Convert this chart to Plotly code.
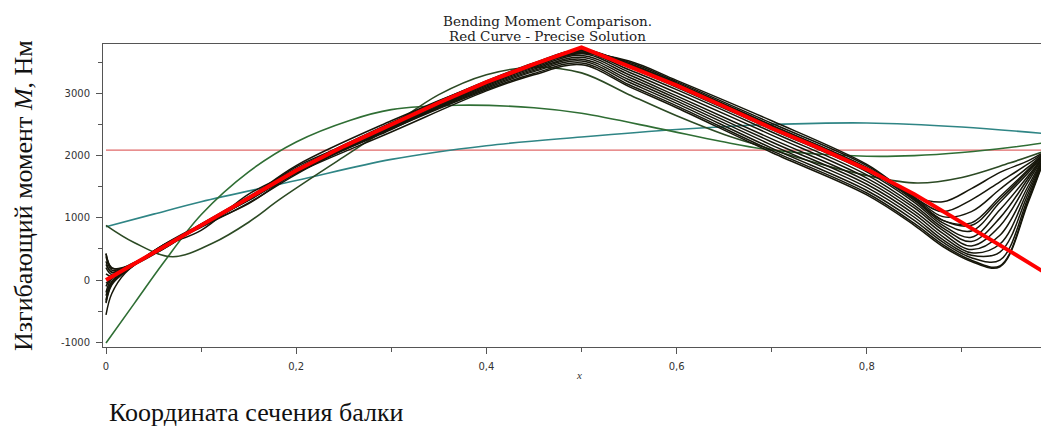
import plotly.graph_objects as go

# ---------------- data ----------------
# precise solution (thick red)
RED_X = [0, 0.05, 0.1, 0.15, 0.2, 0.25, 0.3, 0.35, 0.4, 0.45, 0.5,
         0.55, 0.6, 0.65, 0.7, 0.75, 0.8, 0.85, 0.9, 0.95, 1.0]
RED_Y = [0, 440, 870, 1310, 1760, 2150, 2500, 2850, 3180, 3470, 3740,
         3440, 3130, 2790, 2440, 2120, 1780, 1380, 930, 470, 0]

# first approximation (thin red constant)
CONST_X = [0, 1.0]
CONST_Y = [2090, 2090]

# second approximation (teal)
TEAL_X = [0, 0.05, 0.1, 0.2, 0.3, 0.4, 0.5, 0.6, 0.7, 0.8, 0.9, 0.99]
TEAL_Y = [857, 1060, 1260, 1600, 1940, 2160, 2300, 2420, 2500, 2525, 2460, 2350]

# third approximation (green, starts at -1000)
GREEN1_X = [0, 0.03, 0.06, 0.1, 0.15, 0.2, 0.257, 0.3, 0.37, 0.45, 0.5,
            0.583, 0.646, 0.7, 0.8, 0.85, 0.9, 0.95, 0.99]
GREEN1_Y = [-1010, -370, 270, 1050, 1740, 2220, 2570, 2740, 2810, 2770, 2680,
            2430, 2230, 2090, 1990, 2000, 2050, 2130, 2215]

# fourth approximation (dark green, starts at ~880)
GREEN2_X = [0, 0.03, 0.07, 0.113, 0.15, 0.183, 0.25, 0.3, 0.35, 0.4, 0.45,
            0.5, 0.55, 0.6, 0.65, 0.7, 0.75, 0.8, 0.853, 0.9, 0.95, 0.99]
GREEN2_Y = [880, 600, 375, 600, 930, 1300, 1980, 2480, 2980, 3300, 3420,
            3330, 2980, 2640, 2340, 2100, 1870, 1680, 1560, 1650, 1880, 2090]

# higher approximations (black family), common x grid
BLACK_X = [0, 0.006, 0.02, 0.06, 0.1, 0.15, 0.2, 0.3, 0.4, 0.45, 0.5,
           0.55, 0.6, 0.7, 0.8, 0.85, 0.88, 0.91, 0.94, 0.97, 0.99]
BLACK_01 = [300, 120, 200, 540, 880, 1330, 1770, 2510, 3170, 3450, 3640, 3520, 3210, 2560, 1860, 1350, 1258, 1470, 1730, 1920, 2090]
BLACK_02 = [-200, 20, 150, 560, 850, 1240, 1700, 2490, 3190, 3460, 3660, 3500, 3190, 2520, 1840, 1330, 1100, 1290, 1580, 1870, 2090]
BLACK_03 = [420, 200, 190, 500, 900, 1290, 1750, 2520, 3170, 3480, 3680, 3480, 3170, 2490, 1810, 1330, 1020, 1100, 1460, 1820, 2090]
BLACK_04 = [-350, -60, 140, 550, 860, 1320, 1840, 2560, 3190, 3460, 3690, 3460, 3150, 2470, 1790, 1310, 960, 920, 1340, 1780, 2090]
BLACK_05 = [200, 90, 210, 510, 880, 1300, 1770, 2500, 3180, 3470, 3700, 3440, 3130, 2450, 1770, 1280, 920, 790, 1250, 1730, 2090]
BLACK_06 = [-100, 40, 160, 540, 800, 1380, 1760, 2500, 3170, 3460, 3690, 3420, 3100, 2420, 1740, 1250, 880, 690, 1130, 1680, 2090]
BLACK_07 = [380, 160, 200, 520, 880, 1310, 1760, 2490, 3160, 3440, 3660, 3380, 3060, 2380, 1690, 1200, 840, 620, 1000, 1640, 2090]
BLACK_08 = [-250, -20, 140, 530, 870, 1300, 1750, 2420, 3150, 3430, 3640, 3340, 3010, 2330, 1640, 1160, 800, 550, 870, 1590, 2090]
BLACK_09 = [100, 60, 190, 520, 870, 1300, 1750, 2470, 3140, 3410, 3610, 3300, 2960, 2270, 1590, 1110, 750, 490, 720, 1520, 2090]
BLACK_10 = [-320, -40, 150, 530, 860, 1300, 1820, 2460, 3120, 3390, 3580, 3260, 2920, 2220, 1540, 1060, 700, 440, 580, 1460, 2090]
BLACK_11 = [250, 130, 200, 510, 870, 1290, 1740, 2450, 3100, 3370, 3550, 3220, 2880, 2170, 1490, 1010, 650, 400, 450, 1400, 2090]
BLACK_12 = [-50, 30, 170, 540, 870, 1230, 1730, 2440, 3080, 3350, 3520, 3180, 2840, 2120, 1440, 960, 610, 360, 320, 1340, 2090]
BLACK_13 = [430, 190, 210, 500, 880, 1280, 1720, 2430, 3060, 3320, 3490, 3140, 2800, 2080, 1400, 910, 570, 320, 230, 1290, 2090]
BLACK_14 = [-370, -80, 130, 560, 860, 1300, 1720, 2380, 3040, 3300, 3460, 3110, 2770, 2050, 1370, 880, 540, 300, 215, 1260, 2090]
BLACK_15 = [-560, -220, 110, 560, 900, 1340, 1790, 2530, 3200, 3490, 3700, 3470, 3160, 2480, 1800, 1300, 960, 880, 1300, 1760, 2090]
BLACK_CURVES = [BLACK_01, BLACK_02, BLACK_03, BLACK_04, BLACK_05, BLACK_06, BLACK_07,
                BLACK_08, BLACK_09, BLACK_10, BLACK_11, BLACK_12, BLACK_13, BLACK_14, BLACK_15]

X_TICKS = [0, 0.2, 0.4, 0.6, 0.8]
X_TICK_TEXT = ["0", "0,2", "0,4", "0,6", "0,8"]
Y_TICKS = [-1000, 0, 1000, 2000, 3000]
Y_TICK_TEXT = ["-1000", "0", "1000", "2000", "3000"]

TITLE_1 = "Bending Moment Comparison."
TITLE_2 = "Red Curve - Precise Solution"
Y_LABEL = "Изгибающий момент <i>M</i>, Нм"
X_CAPTION = "Координата сечения балки"

# ---------------- figure ----------------
# the page body has an 8 px margin, so the figure is placed 8 px right/down
OFF = 8
PLOT_L, PLOT_T, PLOT_B = 103, 44, 347     # wanted plot-area edges in page pixels
FIG_W, FIG_H = 1049 - OFF, 427 - OFF
PLOT_H = PLOT_B - PLOT_T
PLOT_W = FIG_W - (PLOT_L - OFF)


def py_to_paper(py):
    return (PLOT_B - py) / PLOT_H


def px_to_paper(px):
    return (px - PLOT_L) / PLOT_W


fig = go.Figure()

fig.add_trace(go.Scatter(x=CONST_X, y=CONST_Y, mode="lines",
                         line=dict(color="#e06a6a", width=1.3)))
fig.add_trace(go.Scatter(x=TEAL_X, y=TEAL_Y, mode="lines", line_shape="spline",
                         line=dict(color="#2f8585", width=1.6)))
fig.add_trace(go.Scatter(x=GREEN1_X, y=GREEN1_Y, mode="lines", line_shape="spline",
                         line=dict(color="#2f6e34", width=1.6)))
fig.add_trace(go.Scatter(x=GREEN2_X, y=GREEN2_Y, mode="lines", line_shape="spline",
                         line=dict(color="#2c4a24", width=1.6)))
for ys in BLACK_CURVES:
    fig.add_trace(go.Scatter(x=BLACK_X, y=ys, mode="lines", line_shape="spline",
                             line=dict(color="#16160a", width=1.5)))
fig.add_trace(go.Scatter(x=RED_X, y=RED_Y, mode="lines",
                         line=dict(color="#ff0000", width=4)))

axis_font = dict(family="DejaVu Sans", size=10, color="#333333")

fig.update_layout(
    width=FIG_W, height=FIG_H,
    margin=dict(l=PLOT_L - OFF, r=0, t=PLOT_T - OFF, b=FIG_H - (PLOT_B - OFF), autoexpand=False),
    paper_bgcolor="white", plot_bgcolor="white",
    showlegend=False,
    xaxis=dict(range=[-0.00315, 0.9916], showgrid=False, zeroline=False,
               showline=True, linecolor="#555555", linewidth=1, mirror=True,
               ticks="outside", ticklen=6, tickcolor="#555555",
               tickvals=X_TICKS, ticktext=X_TICK_TEXT, tickfont=axis_font,
               minor=dict(dtick=0.1, tick0=0, ticks="outside", ticklen=4, tickcolor="#555555"),
               ticklabelstandoff=4),
    yaxis=dict(range=[-1075, 3794], showgrid=False, zeroline=False,
               showline=True, linecolor="#555555", linewidth=1,
               ticks="outside", ticklen=6, tickcolor="#555555",
               tickvals=Y_TICKS, ticktext=Y_TICK_TEXT, tickfont=axis_font,
               minor=dict(dtick=500, tick0=0, ticks="outside", ticklen=4, tickcolor="#555555"),
               ticklabelstandoff=4),
)

title_font = dict(family="DejaVu Serif", size=13.5, color="#222222")
fig.add_annotation(text=TITLE_1, xref="paper", yref="paper", x=px_to_paper(547), y=py_to_paper(20.5),
                   showarrow=False, xanchor="center", yanchor="middle", font=title_font)
fig.add_annotation(text=TITLE_2, xref="paper", yref="paper", x=px_to_paper(547), y=py_to_paper(36.5),
                   showarrow=False, xanchor="center", yanchor="middle", font=title_font)

serif = "Liberation Serif"
fig.add_annotation(text=Y_LABEL, xref="paper", yref="paper", x=px_to_paper(23), y=py_to_paper(196),
                   showarrow=False, xanchor="center", yanchor="middle", textangle=-90,
                   font=dict(family=serif, size=26, color="#111111"))
fig.add_annotation(text=X_CAPTION, xref="paper", yref="paper", x=px_to_paper(107), y=py_to_paper(412),
                   showarrow=False, xanchor="left", yanchor="middle",
                   font=dict(family=serif, size=26, color="#111111"))
fig.add_annotation(text="<i>x</i>", xref="x", yref="paper", x=0.497, y=py_to_paper(375),
                   showarrow=False, xanchor="center", yanchor="middle",
                   font=dict(family=serif, size=11, color="#333333"))

fig.write_html("out.html")
